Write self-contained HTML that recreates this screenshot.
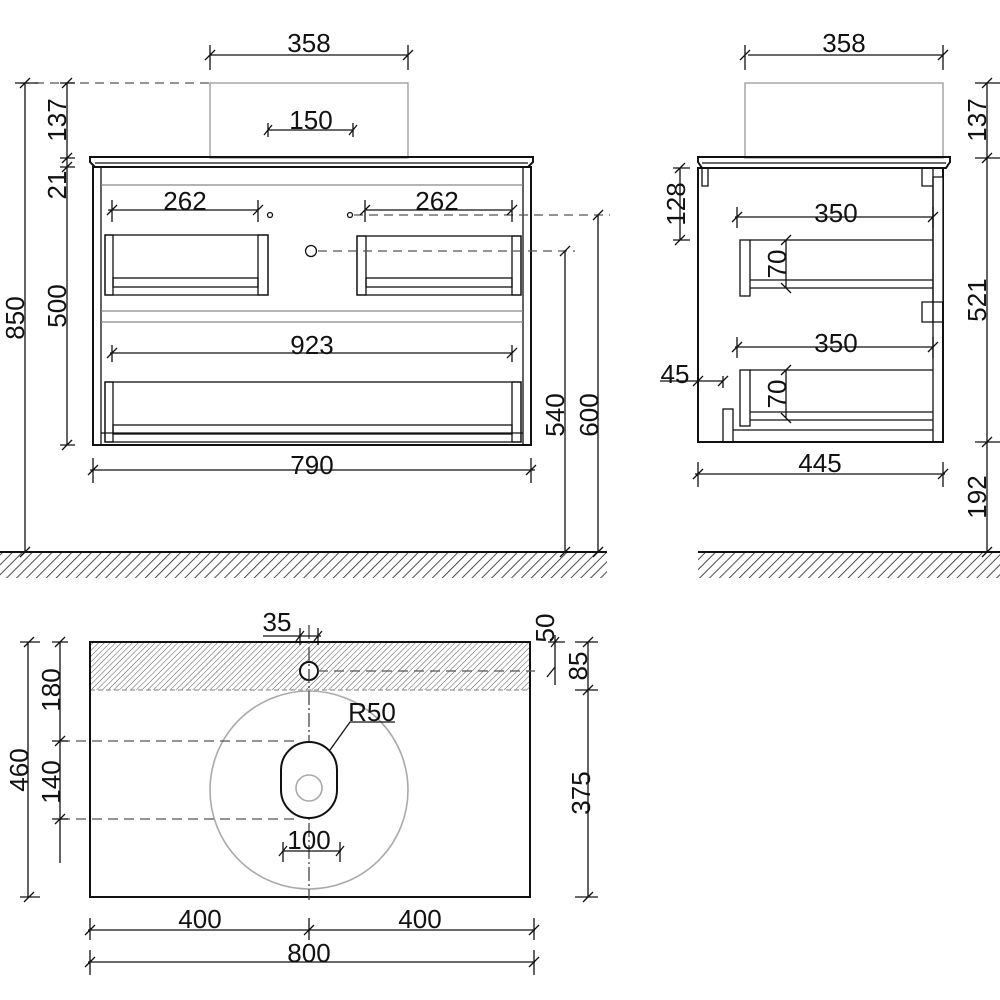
<!DOCTYPE html>
<html><head><meta charset="utf-8"><style>
html,body{margin:0;padding:0;background:#fff}
svg{display:block}
text{font-family:"Liberation Sans",sans-serif;font-size:26px;fill:#111}
</style></head><body>
<svg width="1000" height="1000" viewBox="0 0 1000 1000" xmlns="http://www.w3.org/2000/svg">
<defs>
<pattern id="h" width="7" height="7" patternUnits="userSpaceOnUse" patternTransform="rotate(45)">
<line x1="0" y1="0" x2="0" y2="7" stroke="#222" stroke-width="1.6"/></pattern>
<pattern id="h2" width="4" height="4" patternUnits="userSpaceOnUse" patternTransform="rotate(45)">
<line x1="0" y1="0" x2="0" y2="4" stroke="#444" stroke-width="0.9"/></pattern>
</defs>
<g stroke="#111" fill="none" stroke-width="1.3">
<line x1="20" y1="83" x2="210" y2="83" stroke-dasharray="9,6" stroke="#555"/>
<rect x="210" y="83" width="198" height="75" stroke="#999"/>
<path d="M90 157 H533 V162 L528 167 H95 L90 162 Z" stroke-width="2"/>
<line x1="95" y1="163" x2="528" y2="163"/>
<rect x="93" y="167" width="438" height="278" stroke-width="2"/>
<line x1="101" y1="168" x2="101" y2="445"/><line x1="523" y1="168" x2="523" y2="445"/>
<line x1="101" y1="185" x2="523" y2="185" stroke="#888"/>
<line x1="101" y1="311" x2="523" y2="311" stroke="#888"/>
<line x1="101" y1="322" x2="523" y2="322" stroke="#888"/>
<line x1="101" y1="433" x2="523" y2="433"/>
<rect x="105" y="235" width="163" height="60"/><rect x="105" y="235" width="8" height="60"/><rect x="258" y="235" width="10" height="60"/><rect x="113" y="278" width="145" height="9"/>
<rect x="357" y="236" width="164" height="59"/><rect x="357" y="236" width="9" height="59"/><rect x="512" y="236" width="9" height="59"/><rect x="366" y="278" width="146" height="9"/>
<rect x="105" y="382" width="416" height="60"/><rect x="105" y="382" width="8" height="60"/><rect x="512" y="382" width="9" height="60"/><rect x="113" y="425" width="399" height="9"/>
<circle cx="270" cy="215" r="2.5"/><circle cx="350" cy="215" r="2.5"/><circle cx="311" cy="251" r="5.5"/>
<line x1="354" y1="215" x2="610" y2="215" stroke-dasharray="9,6" stroke="#555"/>
<line x1="318" y1="251" x2="575" y2="251" stroke-dasharray="9,6" stroke="#555"/>
<path d="M210 55H408M210 45V70M408 45V70M205 60L215 50M403 60L413 50"/>
<path d="M268 130H353M268 123V137M353 123V137M264 135L272 125M349 135L357 125"/>
<path d="M108 210H258M112 200V222M258 200V222M107 215L117 205M253 215L263 205"/>
<path d="M365 210H512M365 200V222M512 200V222M360 215L370 205M507 215L517 205"/>
<path d="M110 353H512M112 345V362M512 345V362M107 358L117 348M507 358L517 348"/>
<path d="M90 470H535M93 458V483M531 458V483M88 475L98 465M526 475L536 465"/>
<path d="M25 83V552M15 83H38M20 88L30 78M20 557L30 547"/>
<path d="M67 83V445M60 83H75M60 158H75M60 167H75M60 445H75M62 88L72 78M62 163L72 153M62 172L72 162M62 450L72 440"/>
<path d="M565 251V552M560 256L570 246M560 557L570 547"/>
<path d="M598 215V552M593 220L603 210M593 557L603 547"/>
<line x1="0" y1="552" x2="607" y2="552" stroke-width="2"/>
<rect x="745" y="83" width="198" height="75" stroke="#999"/>
<path d="M698 157H950V162L946 168H702L698 162Z" stroke-width="2"/>
<line x1="702" y1="163" x2="946" y2="163"/>
<rect x="698" y="168" width="245" height="274" stroke-width="2"/>
<path d="M702 168V186H708V168"/><path d="M922 168V186H933"/>
<path d="M933 177H943V302H933Z" fill="#fff"/><path d="M922 302H933V322H922Z"/><path d="M933 322H943V442"/>
<line x1="933" y1="168" x2="933" y2="442"/>
<rect x="740" y="240" width="10" height="56"/><path d="M750 240H933M750 280H933M750 288H933"/>
<rect x="740" y="370" width="10" height="56"/><path d="M750 370H933M750 412H933M750 420H933"/>
<rect x="723" y="409" width="10" height="33"/><path d="M733 430H933"/>
<path d="M735 217H933M737 207V228M933 207V228M732 222L742 212M928 222L938 212"/>
<path d="M735 347H933M737 337V358M933 337V358M732 352L742 342M928 352L938 342"/>
<path d="M786 240V288M781 245L791 235M781 283L791 293"/>
<path d="M786 370V418M781 375L791 365M781 413L791 423"/>
<path d="M680 168V240M673 168H690M673 240H690M675 173L685 163M675 245L685 235"/>
<path d="M660 381H723M698 376V388M723 376V388M693 386L703 376M718 386L728 376"/>
<path d="M695 474H945M698 462V487M943 462V487M693 479L703 469M938 479L948 469"/>
<path d="M748 55H943M745 45V70M943 45V70M740 60L750 50M938 60L948 50"/>
<path d="M987 83V552M975 83H1000M975 158H1000M975 442H1000M982 88L992 78M982 163L992 153M982 447L992 437M982 557L992 547"/>
<line x1="698" y1="552" x2="1000" y2="552" stroke-width="2"/>
<rect x="90" y="642" width="440" height="48" fill="url(#h2)" stroke="none"/>
<line x1="90" y1="690" x2="530" y2="690" stroke-dasharray="5,3" stroke="#999"/>
<rect x="90" y="642" width="440" height="255" stroke-width="2"/>
<circle cx="309" cy="790" r="99" stroke="#aaa" stroke-width="1.6"/>
<circle cx="309" cy="671" r="9" stroke-width="2" fill="#fff"/>
<line x1="318" y1="671" x2="535" y2="671" stroke-dasharray="10,6" stroke="#555"/>
<line x1="309" y1="625" x2="309" y2="900" stroke-dasharray="14,3,2,3" stroke="#444"/>
<rect x="281" y="742" width="56" height="76" rx="28" ry="28" stroke-width="2" fill="#fff"/>
<circle cx="309" cy="788" r="13" stroke="#aaa" stroke-width="1.6"/>
<line x1="60" y1="741" x2="300" y2="741" stroke-dasharray="10,6" stroke="#555"/>
<line x1="60" y1="819" x2="300" y2="819" stroke-dasharray="10,6" stroke="#555"/>
<path d="M330 750L350 722H395" />
<path d="M28 642V897M20 642H40M20 897H40M24 647L34 637M24 902L34 892"/>
<path d="M60 642V863M52 642H68M52 741H68M52 819H68M55 647L65 637M55 746L65 736M55 824L65 814"/>
<path d="M263 636H321M300 628V645M318 628V645M296 641L304 631M314 641L322 631"/>
<path d="M283 851H341M283 842V862M340 842V862M279 856L287 846M336 856L344 846"/>
<path d="M555 635V685M548 642H565M547 677L555 667M551 647L559 637"/>
<path d="M588 642V897M575 642H598M575 690H598M575 897H598M583 647L593 637M583 695L593 685M583 902L593 892"/>
<path d="M88 930H535M90 918V940M309 918V940M534 918V940M85 935L95 925M304 935L314 925M529 935L539 925"/>
<path d="M88 962H535M90 950V975M534 950V975M85 967L95 957M529 967L539 957"/>
</g>
<rect x="0" y="553" width="607" height="25" fill="url(#h)"/>
<rect x="698" y="553" width="302" height="25" fill="url(#h)"/>
<text x="309" y="52" text-anchor="middle">358</text>
<text x="311" y="129" text-anchor="middle">150</text>
<text x="185" y="210" text-anchor="middle">262</text>
<text x="437" y="210" text-anchor="middle">262</text>
<text x="312" y="354" text-anchor="middle">923</text>
<text x="312" y="474" text-anchor="middle">790</text>
<text transform="translate(24,318) rotate(-90)" text-anchor="middle">850</text>
<text transform="translate(66,120) rotate(-90)" text-anchor="middle">137</text>
<text transform="translate(66,185) rotate(-90)" text-anchor="middle">21</text>
<text transform="translate(66,306) rotate(-90)" text-anchor="middle">500</text>
<text transform="translate(564,415) rotate(-90)" text-anchor="middle">540</text>
<text transform="translate(598,415) rotate(-90)" text-anchor="middle">600</text>
<text x="844" y="52" text-anchor="middle">358</text>
<text x="836" y="222" text-anchor="middle">350</text>
<text x="836" y="352" text-anchor="middle">350</text>
<text x="820" y="472" text-anchor="middle">445</text>
<text x="675" y="383" text-anchor="middle">45</text>
<text transform="translate(685,204) rotate(-90)" text-anchor="middle">128</text>
<text transform="translate(786,264) rotate(-90)" text-anchor="middle">70</text>
<text transform="translate(786,394) rotate(-90)" text-anchor="middle">70</text>
<text transform="translate(986,120) rotate(-90)" text-anchor="middle">137</text>
<text transform="translate(986,300) rotate(-90)" text-anchor="middle">521</text>
<text transform="translate(986,497) rotate(-90)" text-anchor="middle">192</text>
<text x="277" y="631" text-anchor="middle">35</text>
<text x="372" y="721" text-anchor="middle">R50</text>
<text x="309" y="849" text-anchor="middle">100</text>
<text x="200" y="928" text-anchor="middle">400</text>
<text x="420" y="928" text-anchor="middle">400</text>
<text x="309" y="962" text-anchor="middle">800</text>
<text transform="translate(28,770) rotate(-90)" text-anchor="middle">460</text>
<text transform="translate(60,690) rotate(-90)" text-anchor="middle">180</text>
<text transform="translate(60,782) rotate(-90)" text-anchor="middle">140</text>
<text transform="translate(554,628) rotate(-90)" text-anchor="middle">50</text>
<text transform="translate(587,666) rotate(-90)" text-anchor="middle">85</text>
<text transform="translate(590,793) rotate(-90)" text-anchor="middle">375</text>
</svg>
</body></html>
